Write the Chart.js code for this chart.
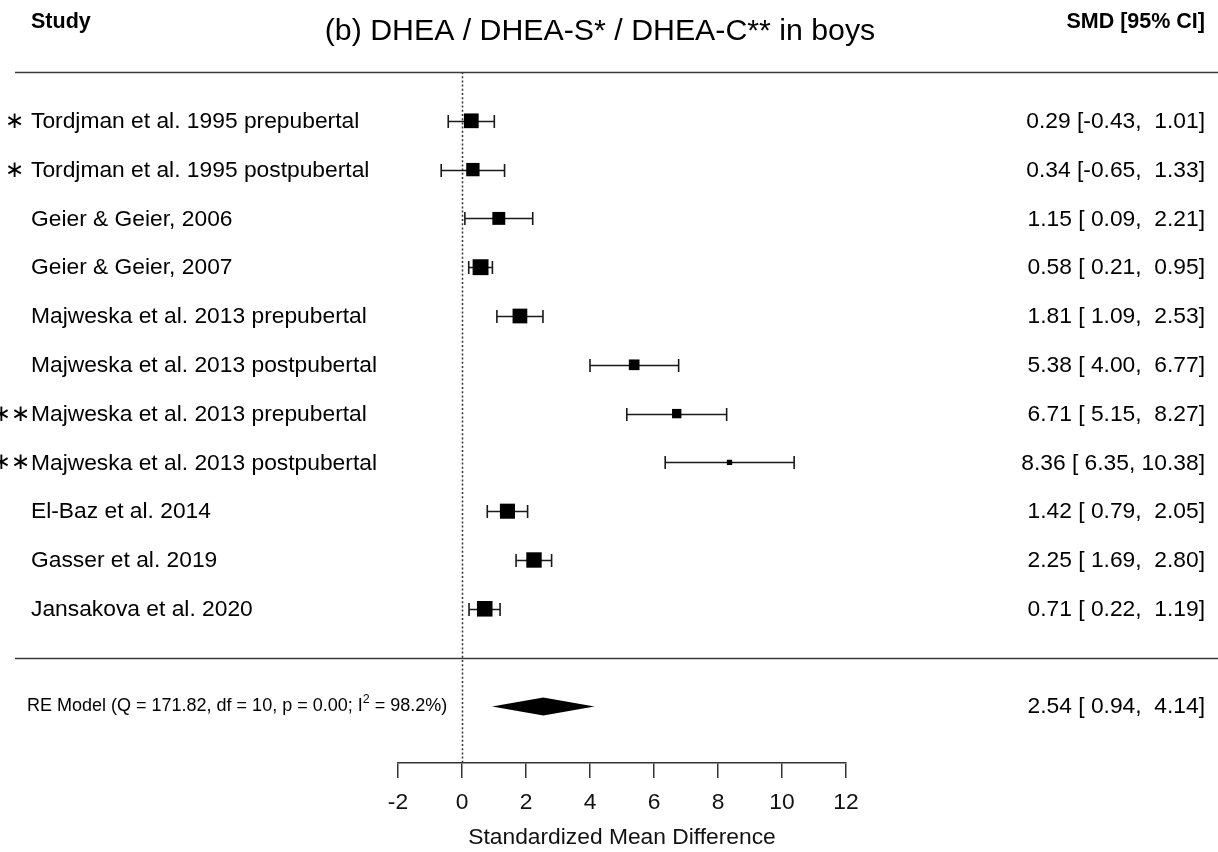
<!DOCTYPE html>
<html><head><meta charset="utf-8">
<script src="https://cdn.jsdelivr.net/npm/chart.js@4.4.1/dist/chart.umd.min.js"></script>
<style>html,body{margin:0;padding:0;background:#fff}#wrap{width:1218px;height:852px}</style>
</head><body><div id="wrap"><canvas id="c" width="1218" height="852"></canvas></div>
<script>
// ---- data ----
const chartTitle = '(b) DHEA / DHEA-S* / DHEA-C** in boys';
const studies = [
  'Tordjman et al. 1995 prepubertal',
  'Tordjman et al. 1995 postpubertal',
  'Geier & Geier, 2006',
  'Geier & Geier, 2007',
  'Majweska et al. 2013 prepubertal',
  'Majweska et al. 2013 postpubertal',
  'Majweska et al. 2013 prepubertal',
  'Majweska et al. 2013 postpubertal',
  'El-Baz et al. 2014',
  'Gasser et al. 2019',
  'Jansakova et al. 2020'
];
const markers = ['\u2217', '\u2217', '', '', '', '', '\u2217\u2217', '\u2217\u2217', '', '', ''];
const estimates = [0.29, 0.34, 1.15, 0.58, 1.81, 5.38, 6.71, 8.36, 1.42, 2.25, 0.71];
const lower     = [-0.43, -0.65, 0.09, 0.21, 1.09, 4.00, 5.15, 6.35, 0.79, 1.69, 0.22];
const upper     = [1.01, 1.33, 2.21, 0.95, 2.53, 6.77, 8.27, 10.38, 2.05, 2.80, 1.19];
const weightsPct = [9.30, 9.13, 9.08, 9.44, 9.30, 8.81, 8.65, 8.16, 9.34, 9.38, 9.40];
const summaryEst = 2.54, summaryLower = 0.94, summaryUpper = 4.14;
const modelLabel = {Q: '171.82', df: '10', p: '0.00', I2: '98.2%'};
const xTicks = [-2, 0, 2, 4, 6, 8, 10, 12];
const xTitle = 'Standardized Mean Difference';
const headLeft = 'Study', headRight = 'SMD [95% CI]';

// ---- helpers ----
const FONT = "'Liberation Sans', Arial, Helvetica, sans-serif";
const n = studies.length;
const rows = studies.map((s, i) => n - i);
const pad5 = v => v.toFixed(2).padStart(5, ' ');
const fmt = (e, l, u) => e.toFixed(2) + ' [' + pad5(l) + ', ' + pad5(u) + ']';
const wMin = Math.min(...weightsPct), wMax = Math.max(...weightsPct);
const sideOf = w => 10.6 * (0.5 + (w - wMin) / (wMax - wMin));
const radii = weightsPct.map(w => sideOf(w) / Math.SQRT2);

const forestPlugin = {
  id: 'forest',
  beforeDatasetsDraw(chart) {
    const {ctx, scales: {x, y}, chartArea} = chart;
    ctx.save();
    // dotted reference line at 0
    ctx.strokeStyle = '#333';
    ctx.lineWidth = 1.5;
    ctx.setLineDash([2, 2.2]);
    ctx.beginPath();
    const x0 = Math.round(x.getPixelForValue(0)) + 0.5;
    ctx.moveTo(x0, y.getPixelForValue(n + 1));
    ctx.lineTo(x0, chartArea.bottom);
    ctx.stroke();
    ctx.setLineDash([]);
    // horizontal separator lines
    ctx.strokeStyle = '#3a3a3a';
    ctx.lineWidth = 1.6;
    [n + 1, 0].forEach(r => {
      const py = Math.round(y.getPixelForValue(r)) + 0.5;
      ctx.beginPath(); ctx.moveTo(15, py); ctx.lineTo(1218, py); ctx.stroke();
    });
    // CI bars
    ctx.strokeStyle = '#1a1a1a';
    ctx.lineWidth = 1.6;
    for (let i = 0; i < n; i++) {
      const py = Math.round(y.getPixelForValue(rows[i])) + 0.5;
      const xl = x.getPixelForValue(lower[i]), xu = x.getPixelForValue(upper[i]);
      ctx.beginPath();
      ctx.moveTo(xl, py); ctx.lineTo(xu, py);
      ctx.moveTo(xl, py - 6.5); ctx.lineTo(xl, py + 6.5);
      ctx.moveTo(xu, py - 6.5); ctx.lineTo(xu, py + 6.5);
      ctx.stroke();
    }
    // summary diamond
    const sy = y.getPixelForValue(-1);
    ctx.fillStyle = '#000';
    ctx.beginPath();
    ctx.moveTo(x.getPixelForValue(summaryLower), sy);
    ctx.lineTo(x.getPixelForValue(summaryEst), sy - 9);
    ctx.lineTo(x.getPixelForValue(summaryUpper), sy);
    ctx.lineTo(x.getPixelForValue(summaryEst), sy + 9);
    ctx.closePath();
    ctx.fill();
    ctx.restore();
  },
  afterDraw(chart) {
    const {ctx, scales: {y}} = chart;
    ctx.save();
    ctx.fillStyle = '#000';
    ctx.textBaseline = 'middle';
    // headers
    ctx.font = 'bold 21.5px ' + FONT;
    ctx.textAlign = 'left';
    ctx.fillText(headLeft, 31, 22);
    ctx.textAlign = 'right';
    ctx.fillText(headRight, 1205, 22);
    ctx.font = '30.3px ' + FONT;
    ctx.textAlign = 'center';
    ctx.fillText(chartTitle, 600, 32);
    // rows
    for (let i = 0; i < n; i++) {
      const py = y.getPixelForValue(rows[i]);
      ctx.font = '22.8px ' + FONT;
      ctx.textAlign = 'left';
      ctx.fillText(studies[i], 31, py + 1);
      ctx.textAlign = 'right';
      ctx.fillText(fmt(estimates[i], lower[i], upper[i]), 1205, py + 1);
      if (markers[i]) {
        ctx.font = "23px 'DejaVu Sans', sans-serif";
        ctx.textAlign = 'right';
        ctx.fillText(markers[i], markers[i].length > 1 ? 30 : 24, py + 1);
      }
    }
    // summary row
    const sy = y.getPixelForValue(-1);
    ctx.font = '22.8px ' + FONT;
    ctx.textAlign = 'right';
    ctx.fillText(fmt(summaryEst, summaryLower, summaryUpper), 1205, sy);
    ctx.textAlign = 'left';
    ctx.font = '18px ' + FONT;
    let tx = 27;
    const part1 = 'RE Model (Q = ' + modelLabel.Q + ', df = ' + modelLabel.df + ', p = ' + modelLabel.p + '; I';
    ctx.fillText(part1, tx, sy);
    tx += ctx.measureText(part1).width;
    ctx.font = '12.5px ' + FONT;
    ctx.fillText('2', tx, sy - 7);
    tx += ctx.measureText('2').width;
    ctx.font = '18px ' + FONT;
    ctx.fillText(' = ' + modelLabel.I2 + ')', tx, sy);
    ctx.restore();
  }
};

new Chart(document.getElementById('c'), {
  type: 'scatter',
  data: {
    datasets: [{
      data: estimates.map((e, i) => ({x: e, y: rows[i]})),
      pointStyle: 'rect',
      pointRadius: radii,
      pointHoverRadius: radii,
      backgroundColor: '#000',
      borderWidth: 0
    }]
  },
  options: {
    responsive: false,
    animation: false,
    devicePixelRatio: 1,
    layout: {padding: {left: 398, right: 372, top: 72, bottom: 0}},
    plugins: {legend: {display: false}, tooltip: {enabled: false}, title: {display: false}},
    scales: {
      x: {
        type: 'linear', min: -2, max: 12,
        afterBuildTicks: s => { s.ticks = xTicks.map(v => ({value: v})); },
        afterFit: s => { s.height = 89; },
        border: {display: true, color: '#333', width: 1.5},
        grid: {display: true, drawOnChartArea: false, drawTicks: true, tickLength: 15, color: '#333', lineWidth: 1.5},
        ticks: {font: {family: FONT, size: 22.8}, color: '#111', padding: 11, maxRotation: 0},
        title: {display: true, text: xTitle, font: {family: FONT, size: 22.8}, color: '#111', padding: {top: 8, bottom: 1}}
      },
      y: {type: 'linear', min: -2.16, max: n + 1, display: false}
    }
  },
  plugins: [forestPlugin]
});
</script></body></html>
